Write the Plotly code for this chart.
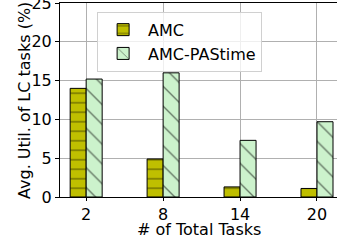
import plotly.graph_objects as go

categories = ["2", "8", "14", "20"]
amc = [14.0, 4.9, 1.3, 1.1]
amc_pastime = [15.2, 16.0, 7.3, 9.7]
y_ticks = [0, 5, 10, 15, 20, 25]
x_title = "# of Total Tasks"
y_title = "Avg. Util. of LC tasks (%)"

fig = go.Figure()
fig.add_trace(go.Bar(
    x=categories, y=amc, name="AMC",
    marker=dict(color="#bfbf00", line=dict(color="black", width=1),
                pattern=dict(shape="-", fgcolor="black", size=9.5, solidity=0.12)),
))
fig.add_trace(go.Bar(
    x=categories, y=amc_pastime, name="AMC-PAStime",
    marker=dict(color="#ccf2cc", line=dict(color="black", width=1),
                pattern=dict(shape="\\", fgcolor="black", size=14, solidity=0.1)),
))

font = dict(family="DejaVu Sans", size=16, color="black")
fig.update_layout(
    width=337, height=241,
    margin=dict(l=60, r=0, t=3, b=44),
    paper_bgcolor="white", plot_bgcolor="white",
    barmode="group", bargap=0.584, bargroupgap=0,
    font=font,
    showlegend=True,
    legend=dict(x=0.134, y=0.955, xanchor="left", yanchor="top",
                bgcolor="rgba(255,255,255,0.8)", bordercolor="#d0d0d0", borderwidth=1,
                font=dict(family="DejaVu Sans", size=16), itemwidth=40,
                tracegroupgap=0),
    annotations=[
        dict(text=x_title, xref="paper", yref="paper", x=0.5, y=-0.165,
             xanchor="center", yanchor="middle", showarrow=False, font=font),
        dict(text=y_title, xref="paper", yref="paper", x=-0.13, y=0.5,
             xanchor="center", yanchor="middle", textangle=-90,
             showarrow=False, font=font),
    ],
)
fig.update_xaxes(
    range=[-0.34, 3.26], showgrid=True, gridcolor="#b0b0b0", gridwidth=1,
    showline=True, linecolor="black", linewidth=1, mirror=True,
    ticks="outside", ticklen=3, tickcolor="black", automargin=False,
    tickfont=font,
)
fig.update_yaxes(
    range=[0, 25], tickvals=y_ticks, showgrid=True, gridcolor="#b0b0b0", gridwidth=1,
    showline=True, linecolor="black", linewidth=1, mirror=False,
    ticks="outside", ticklen=4, tickcolor="black", automargin=False,
    ticklabeloverflow="allow",
    tickfont=font, zeroline=False,
)
fig.write_html(
    "out.html",
    config={"displayModeBar": False},
    post_script="document.body.style.margin='0';document.body.style.overflow='hidden';",
)
